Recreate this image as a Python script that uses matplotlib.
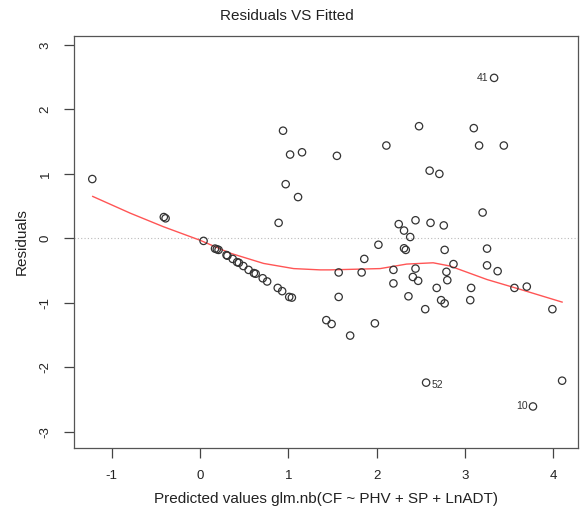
import numpy as np
import matplotlib.pyplot as plt

plt.rcParams['font.family'] = ['Liberation Sans', 'DejaVu Sans']
plt.rcParams['axes.unicode_minus'] = False

# fitted values and residuals
fitted = [-1.22, -0.41, -0.39, 0.04, 0.17, 0.19, 0.21, 0.30, 0.31, 0.37,
          0.42, 0.44, 0.49, 0.55, 0.61, 0.63, 0.71, 0.76, 0.88, 0.93,
          1.01, 1.04, 0.94, 1.02, 1.155, 0.97, 1.11, 0.89, 3.33, 2.48,
          3.10, 2.11, 3.16, 3.44, 1.55, 2.60, 2.71, 3.20, 2.25, 2.31,
          2.38, 2.44, 2.61, 2.76, 2.02, 1.86, 2.31, 2.33, 2.77, 3.25,
          2.87, 3.25, 3.37, 1.57, 1.83, 2.19, 2.44, 2.79, 2.41, 2.47,
          2.80, 2.19, 2.68, 3.07, 3.56, 3.70, 1.57, 2.36, 2.73, 2.77,
          3.06, 3.99, 2.55, 1.43, 1.49, 1.98, 1.70, 2.56, 3.77, 4.10]
resid = [0.92, 0.33, 0.31, -0.04, -0.16, -0.17, -0.18, -0.26, -0.27, -0.32,
         -0.37, -0.38, -0.43, -0.49, -0.54, -0.55, -0.62, -0.67, -0.77, -0.82,
         -0.91, -0.92, 1.67, 1.30, 1.335, 0.84, 0.64, 0.24, 2.49, 1.74,
         1.71, 1.44, 1.44, 1.44, 1.28, 1.05, 1.00, 0.40, 0.22, 0.12,
         0.02, 0.28, 0.24, 0.20, -0.10, -0.32, -0.155, -0.18, -0.18, -0.16,
         -0.40, -0.42, -0.51, -0.53, -0.53, -0.49, -0.47, -0.52, -0.60, -0.66,
         -0.65, -0.70, -0.77, -0.77, -0.77, -0.75, -0.91, -0.90, -0.96, -1.01,
         -0.96, -1.10, -1.10, -1.27, -1.33, -1.32, -1.51, -2.24, -2.61, -2.21]

# smoother curve (red line)
smooth_x = [-1.215, -0.79, -0.415, 0.0, 0.34, 0.72, 1.06, 1.36, 1.47, 2.04,
            2.34, 2.64, 2.83, 3.25, 3.62, 4.10]
smooth_y = [0.65, 0.39, 0.18, -0.03, -0.23, -0.39, -0.47, -0.49, -0.49, -0.47,
            -0.40, -0.38, -0.43, -0.64, -0.79, -0.99]

# labelled observations: (name, index in arrays, side)
lab_names = ["41", "52", "10"]
lab_index = [28, 77, 78]
lab_side = ["left", "right", "left"]

fig = plt.figure(figsize=(5.8, 5.09), dpi=100)
ax = fig.add_axes([74 / 580, 1 - 447.7 / 509, 504 / 580, (447.7 - 36) / 509])

ax.axhline(0, color="#bbbbbb", linestyle=(0, (1, 2)), linewidth=0.8, zorder=1)
ax.scatter(fitted, resid, s=28, facecolors="none", edgecolors="#333333",
           linewidths=0.9, zorder=3)
ax.plot(smooth_x, smooth_y, color="#ff5555", linewidth=1.0, zorder=2)

for name, i, side in zip(lab_names, lab_index, lab_side):
    if side == "left":
        ax.annotate(name, (fitted[i], resid[i]), xytext=(-4, 0),
                    textcoords="offset points", ha="right", va="center",
                    fontsize=7.5, color="#333333")
    else:
        ax.annotate(name, (fitted[i], resid[i]), xytext=(4, -2),
                    textcoords="offset points", ha="left", va="center",
                    fontsize=7.5, color="#333333")

ax.set_xlim(-1.427, 4.28)
ax.set_ylim(-3.25, 3.14)
ax.set_xticks([-1, 0, 1, 2, 3, 4])
ax.set_yticks([-3, -2, -1, 0, 1, 2, 3])
ax.tick_params(direction="out", length=7, width=0.9, colors="#444444",
               labelcolor="#222222", labelsize=9.5, pad=9)
for lbl in ax.get_yticklabels():
    lbl.set_rotation(90)
    lbl.set_va("center")
for sp in ax.spines.values():
    sp.set_color("#555555")
    sp.set_linewidth(0.9)

ax.set_xlabel("Predicted values glm.nb(CF ~ PHV + SP + LnADT)", fontsize=11,
              color="#222222", labelpad=7)
ax.set_ylabel("Residuals", fontsize=11, color="#222222", labelpad=8)
fig.text(287 / 580, 1 - 16 / 509, "Residuals VS Fitted", ha="center",
         va="center", fontsize=11, color="#222222")

fig.savefig("out.png", dpi=100)
